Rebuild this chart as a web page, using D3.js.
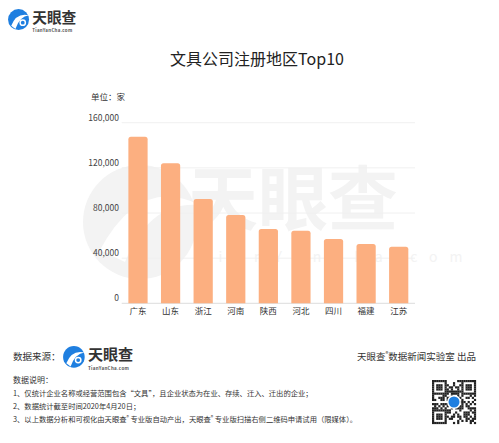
<!DOCTYPE html>
<html>
<head>
  <meta charset="utf-8">
  <title>文具公司注册地区Top10</title>
  <script src="https://d3js.org/d3.v7.min.js"></script>
  <style>
    body { margin: 0; background: #fff; }
    svg { display: block; font-family: "Noto Sans CJK SC", "Noto Sans", sans-serif; }
  </style>
</head>
<body>
  <svg id="chart"></svg>
  <script>
    // data
    const regions = ["广东", "山东", "浙江", "河南", "陕西", "河北", "四川", "福建", "江苏"];
    const counts = [147600, 124000, 92400, 78200, 65800, 64300, 57000, 52500, 50100];
    const yTicks = [0, 40000, 80000, 120000, 160000];
    const notes = [
      ["1、仅统计企业名称或经营范围包含“文具”，且企业状态为在业、存续、迁入、迁出的企业；"],
      ["2、数据统计截至时间2020年4月20日；"],
      ["3、以上数据分析和可视化由天眼查", "专业版自动产出，天眼查", "专业版扫描右侧二维码申请试用（限媒体）。"]
    ];

    const width = 499, height = 443;
    const svg = d3.select("#chart").attr("width", width).attr("height", height);

    const x = d3.scaleBand().domain(regions).range([121.7, 415]).paddingInner(0.41).paddingOuter(0.205);
    const y = d3.scaleLinear().domain([0, 160000]).range([303.3, 122.7]);

    // watermark
    const wm = svg.append("g").attr("fill", "#f3f3f3");
    wm.append("circle").attr("cx", 140).attr("cy", 222).attr("r", 57);
    wm.append("path")
      .attr("d", "M100,250 Q140,175 200,205 Q150,200 125,262 Z")
      .attr("fill", "#fff");
    wm.append("text").attr("x", 188).attr("y", 225).attr("font-size", 70)
      .attr("font-weight", "bold").text("天眼查");
    wm.append("text").attr("x", 198).attr("y", 262).attr("font-size", 14)
      .attr("letter-spacing", 12).text("TianYanCha.com");

    // logo
    function logo(g, s) {
      g.append("circle").attr("cx", 11 * s).attr("cy", 11 * s).attr("r", 10 * s).attr("fill", "#1f7fe0");
      g.append("path")
        .attr("d", `M${4*s},${17*s} Q${9*s},${4*s} ${21*s},${7*s} Q${12*s},${8*s} ${8*s},${20*s} Z`)
        .attr("fill", "#fff");
      g.append("circle").attr("cx", 15 * s).attr("cy", 14 * s).attr("r", 3.2 * s).attr("fill", "#fff");
      g.append("circle").attr("cx", 15 * s).attr("cy", 14 * s).attr("r", 1.8 * s).attr("fill", "#1f7fe0");
      g.append("text").attr("x", 24 * s).attr("y", 14 * s).attr("font-size", 14 * s)
        .attr("font-weight", "bold").attr("fill", "#333").text("天眼查");
      g.append("text").attr("x", 24 * s).attr("y", 23.2 * s).attr("font-size", 4.2 * s)
        .attr("font-weight", "bold").attr("fill", "#555").attr("letter-spacing", 0.3 * s).text("TianYanCha.com");
    }
    logo(svg.append("g").attr("transform", "translate(7,8)"), 1.05);

    // title
    svg.append("text").attr("x", 257).attr("y", 65).attr("text-anchor", "middle")
      .attr("font-size", 16).attr("fill", "#222").text("文具公司注册地区Top10");
    svg.append("text").attr("x", 91).attr("y", 100).attr("font-size", 8.5)
      .attr("fill", "#333").text("单位：家");

    // grid + y labels
    svg.append("g").selectAll("line").data(yTicks).join("line")
      .attr("x1", 121.7).attr("x2", 415)
      .attr("y1", d => y(d)).attr("y2", d => y(d))
      .attr("stroke", d => d === 0 ? "#ddd" : "#f0f0f0").attr("stroke-width", 1);
    svg.append("g").selectAll("text").data(yTicks).join("text")
      .attr("x", 119).attr("y", d => y(d) - 2).attr("text-anchor", "end")
      .attr("font-size", 8.5).attr("fill", "#444")
      .text(d => d3.format(",")(d));

    // bars
    svg.append("g").selectAll("path").data(counts).join("path")
      .attr("fill", "#fcaf80")
      .attr("d", (d, i) => {
        const x0 = x(regions[i]), w = x.bandwidth(), y0 = y(d), y1 = y(0), r = 2.5;
        return `M${x0},${y1}V${y0 + r}Q${x0},${y0} ${x0 + r},${y0}H${x0 + w - r}Q${x0 + w},${y0} ${x0 + w},${y0 + r}V${y1}Z`;
      });

    // category labels
    svg.append("g").selectAll("text").data(regions).join("text")
      .attr("x", d => x(d) + x.bandwidth() / 2).attr("y", 314)
      .attr("text-anchor", "middle").attr("font-size", 8.5).attr("fill", "#333")
      .text(d => d);

    // footer
    svg.append("text").attr("x", 13).attr("y", 360).attr("font-size", 9.5)
      .attr("fill", "#333").text("数据来源：");
    logo(svg.append("g").attr("transform", "translate(62,345)"), 1.08);

    const credit = svg.append("text").attr("x", 476).attr("y", 360).attr("text-anchor", "end")
      .attr("font-size", 9.5).attr("fill", "#333");
    credit.append("tspan").text("天眼查");
    credit.append("tspan").attr("font-size", 6).attr("dy", -4).text("®");
    credit.append("tspan").attr("dy", 4).text("数据新闻实验室 出品");

    svg.append("text").attr("x", 13).attr("y", 383).attr("font-size", 8)
      .attr("fill", "#333").text("数据说明：");
    notes.forEach((parts, i) => {
      const t = svg.append("text").attr("x", 13).attr("y", 396 + i * 13)
        .attr("font-size", 7.3).attr("fill", "#333");
      parts.forEach((p, j) => {
        if (j > 0) {
          t.append("tspan").attr("font-size", 5).attr("dy", -3).text("®");
          t.append("tspan").attr("dy", 3).text(" " + p);
        } else {
          t.append("tspan").text(p);
        }
      });
    });

    // QR-like decoration (deterministic)
    const qr = svg.append("g").attr("transform", "translate(432,380)");
    const n = 21, c = 44 / n;
    let seed = 7;
    for (let r = 0; r < n; r++) {
      for (let k = 0; k < n; k++) {
        seed = (seed * 1103515245 + 12345) % 2147483648;
        const finder = (r < 7 && k < 7) || (r < 7 && k >= n - 7) || (r >= n - 7 && k < 7);
        let on;
        if (finder) {
          const rr = r >= n - 7 ? r - (n - 7) : r, kk = k >= n - 7 ? k - (n - 7) : k;
          on = rr === 0 || rr === 6 || kk === 0 || kk === 6 || (rr >= 2 && rr <= 4 && kk >= 2 && kk <= 4);
        } else {
          on = (seed >> 16) % 2 === 0;
        }
        if (on) qr.append("rect").attr("x", k * c).attr("y", r * c).attr("width", c + 0.1).attr("height", c + 0.1).attr("fill", "#222");
      }
    }
    qr.append("circle").attr("cx", 22).attr("cy", 22).attr("r", 7).attr("fill", "#fff");
    qr.append("circle").attr("cx", 22).attr("cy", 22).attr("r", 5.5).attr("fill", "#1f7fe0");
  </script>
</body>
</html>
